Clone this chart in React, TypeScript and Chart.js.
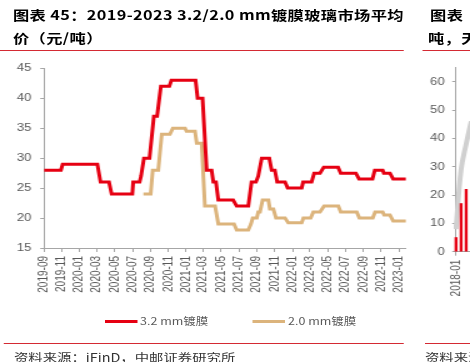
import React, { useEffect, useRef } from 'react';
import { Chart, registerables } from 'chart.js';

Chart.register(...registerables);

// ---------------- data ----------------
const tickLabels = [
  '2019-09', '2019-11', '2020-01', '2020-03', '2020-05', '2020-07', '2020-09',
  '2020-11', '2021-01', '2021-03', '2021-05', '2021-07', '2021-09', '2021-11',
  '2022-01', '2022-03', '2022-05', '2022-07', '2022-09', '2022-11', '2023-01',
];

const seriesNames = ['3.2 mm镀膜', '2.0 mm镀膜'];

const redDates = [
  '2019-09-01', '2019-10-29', '2019-11-04', '2020-03-02', '2020-03-13', '2020-04-11',
  '2020-04-20', '2020-06-30', '2020-07-03', '2020-07-25', '2020-07-30', '2020-08-09',
  '2020-08-28', '2020-09-12', '2020-09-23', '2020-10-06', '2020-11-04', '2020-11-11',
  '2021-02-02', '2021-02-09', '2021-02-26', '2021-03-12', '2021-03-29', '2021-04-04',
  '2021-04-13', '2021-04-21', '2021-06-11', '2021-06-23', '2021-08-02', '2021-08-13',
  '2021-08-28', '2021-09-05', '2021-09-17', '2021-10-13', '2021-10-21', '2021-11-01',
  '2021-11-09', '2021-12-06', '2021-12-15', '2022-02-01', '2022-02-06', '2022-03-07',
  '2022-03-16', '2022-04-05', '2022-04-18', '2022-06-06', '2022-06-15', '2022-08-06',
  '2022-08-17', '2022-10-02', '2022-10-10', '2022-11-06', '2022-11-10', '2022-12-01',
  '2022-12-12', '2023-01-25',
];
const redValues = [
  28, 28, 29, 29, 26, 26, 24, 24, 26, 26,
  27, 30, 30, 37, 37, 42, 42, 43, 43, 40,
  40, 28, 28, 26, 26, 23, 23, 22, 22, 26,
  26, 27, 30, 30, 28, 28, 26, 26, 25, 25,
  26, 26, 27.5, 27.5, 28.5, 28.5, 27.5, 27.5, 26.5, 26.5,
  28, 28, 27.5, 27.5, 26.5, 26.5,
];

const tanDates = [
  '2020-08-07', '2020-09-01', '2020-09-08', '2020-09-27', '2020-10-09', '2020-11-06',
  '2020-11-16', '2020-12-28', '2021-01-02', '2021-01-31', '2021-02-06', '2021-02-23',
  '2021-03-06', '2021-04-10', '2021-04-21', '2021-06-14', '2021-06-23', '2021-08-02',
  '2021-08-11', '2021-08-17', '2021-08-31', '2021-09-05', '2021-09-11', '2021-09-20',
  '2021-10-10', '2021-10-15', '2021-10-27', '2021-11-05', '2021-12-06', '2021-12-17',
  '2022-02-01', '2022-02-07', '2022-03-04', '2022-03-13', '2022-04-05', '2022-04-19',
  '2022-06-07', '2022-06-15', '2022-08-09', '2022-08-18', '2022-10-03', '2022-10-11',
  '2022-11-06', '2022-11-11', '2022-12-01', '2022-12-12', '2023-01-25',
];
const tanValues = [
  24, 24, 28, 28, 34, 34, 35, 35, 34.5, 34.5,
  32.5, 32.5, 22, 22, 19, 19, 18, 18, 19, 20,
  20, 21, 21, 23, 23, 21.5, 21.5, 20, 20, 19.2,
  19.2, 20, 20, 21, 21, 22, 22, 21, 21, 20,
  20, 21, 21, 20.5, 20.5, 19.5, 19.5,
];

// neighbouring (cropped) chart on the right
const rightCats = ['2018-01', '2018-02', '2018-03', '2018-04'];
const rightBars = [5, 17, 22, null];
const rightLine = [8, 29, 38, 46];

// ---------------- styles ----------------
const K = 1.25; // horizontal stretch of the reference
const RED = '#e60012';
const TAN = '#dcb47c';
const AXIS = '#a6a6a6';
const TICK = '#595959';
const RULE = '#d42a33';
const SANS = "'Liberation Sans', Arial, sans-serif";
const CJK = "'Noto Sans CJK SC', 'Noto Sans', sans-serif";

const ORIGIN = Date.UTC(2019, 8, 1);
const dayOf = (s: string) => {
  const [y, m, d] = s.split('-').map(Number);
  return (Date.UTC(y, m - 1, d || 1) - ORIGIN) / 86400000;
};

const LEFT_W = 336;
const CH_H = 250;
const RIGHT_W = 57;

export default function App() {
  const leftRef = useRef<HTMLCanvasElement | null>(null);
  const rightRef = useRef<HTMLCanvasElement | null>(null);

  useEffect(() => {
    const left = new Chart(leftRef.current as HTMLCanvasElement, {
      type: 'line',
      data: {
        datasets: [
          {
            label: seriesNames[0],
            data: redDates.map((d, i) => ({ x: dayOf(d), y: redValues[i] })),
            borderColor: RED,
            backgroundColor: RED,
            borderWidth: 3,
            pointRadius: 0,
            tension: 0,
            fill: false,
          },
          {
            label: seriesNames[1],
            data: tanDates.map((d, i) => ({ x: dayOf(d), y: tanValues[i] })),
            borderColor: TAN,
            backgroundColor: TAN,
            borderWidth: 3,
            pointRadius: 0,
            tension: 0,
            fill: false,
          },
        ],
      },
      options: {
        responsive: false,
        animation: false,
        layout: { padding: { top: 13, right: LEFT_W - 406 / K, bottom: 0, left: 0 } },
        plugins: { legend: { display: false }, tooltip: { enabled: false } },
        scales: {
          x: {
            type: 'linear',
            min: 0,
            max: dayOf(redDates[redDates.length - 1]),
            afterBuildTicks: (s: any) => {
              s.ticks = tickLabels.map((l) => ({ value: dayOf(l) }));
            },
            afterFit: (s: any) => {
              s.height = 57;
            },
            ticks: {
              autoSkip: false,
              maxRotation: 90,
              minRotation: 90,
              padding: 4,
              color: TICK,
              font: { family: SANS, size: 10 },
              callback: (_v: any, i: number) => tickLabels[i],
            },
            grid: { drawOnChartArea: false, drawTicks: true, tickLength: 4, color: AXIS },
            border: { display: true, color: AXIS },
          },
          y: {
            min: 15,
            max: 45,
            afterFit: (s: any) => {
              s.width = 44 / K;
            },
            ticks: {
              stepSize: 5,
              padding: 7,
              color: TICK,
              font: { family: SANS, size: 10.5 },
            },
            grid: { drawOnChartArea: false, drawTicks: true, tickLength: 3, color: AXIS },
            border: { display: true, color: AXIS },
          },
        },
      },
    } as any);

    const right = new Chart(rightRef.current as HTMLCanvasElement, {
      type: 'bar',
      data: {
        labels: rightCats,
        datasets: [
          {
            type: 'bar',
            data: rightBars,
            backgroundColor: RED,
            barThickness: 1.7,
            clip: false,
          },
          {
            type: 'line',
            data: rightLine,
            borderColor: '#d0d0d0',
            borderWidth: 4,
            pointRadius: 0,
            tension: 0.4,
            fill: false,
          },
        ],
      },
      options: {
        responsive: false,
        animation: false,
        layout: { padding: { top: 12.5, right: 0, bottom: 0, left: 0 } },
        plugins: { legend: { display: false }, tooltip: { enabled: false } },
        scales: {
          x: {
            offset: false,
            afterFit: (s: any) => {
              s.height = 53.3;
              s.paddingLeft = 0;
              s.paddingRight = 0;
            },
            ticks: {
              autoSkip: false,
              maxRotation: 90,
              minRotation: 90,
              padding: 4,
              color: TICK,
              font: { family: SANS, size: 10 },
              callback: (_v: any, i: number) => (i === 0 ? rightCats[i] : null),
            },
            grid: { offset: false, drawOnChartArea: false, tickLength: 4, color: AXIS },
            border: { display: true, color: AXIS },
          },
          y: {
            min: 0,
            max: 65,
            afterBuildTicks: (s: any) => {
              s.ticks = s.ticks.filter((t: any) => t.value <= 60);
            },
            afterFit: (s: any) => {
              s.width = 456 / K - 320;
            },
            ticks: {
              stepSize: 10,
              padding: 6,
              color: TICK,
              font: { family: SANS, size: 10.5 },
            },
            grid: { drawOnChartArea: false, tickLength: 3, color: AXIS },
            border: { display: true, color: AXIS },
          },
        },
      },
    } as any);

    return () => {
      left.destroy();
      right.destroy();
    };
  }, []);

  const abs = (s: React.CSSProperties): React.CSSProperties => ({
    position: 'absolute',
    whiteSpace: 'nowrap',
    margin: 0,
    ...s,
  });

  const title: React.CSSProperties = {
    fontFamily: CJK,
    fontWeight: 700,
    fontSize: 13,
    lineHeight: '14px',
    letterSpacing: '0.3px',
    color: '#000',
  };
  const legendText: React.CSSProperties = {
    fontFamily: CJK,
    fontSize: 10,
    lineHeight: '12px',
    color: TICK,
  };
  const source: React.CSSProperties = {
    fontFamily: CJK,
    fontSize: 11.5,
    lineHeight: '13px',
    color: '#333',
  };

  return (
    <div
      style={{
        position: 'fixed',
        left: 0,
        top: 0,
        width: 470,
        height: 362,
        overflow: 'hidden',
        background: '#fff',
      }}
    >
      <div
        style={{
          position: 'absolute',
          left: 0,
          top: 0,
          width: 470 / K,
          height: 362,
          transform: `scaleX(${K})`,
          transformOrigin: '0 0',
        }}
      >
        <div style={abs({ ...title, left: 13 / K, top: 8 })}>
          图表 45：2019-2023 3.2/2.0 mm镀膜玻璃市场平均
        </div>
        <div style={abs({ ...title, left: 13 / K, top: 31 })}>价（元/吨）</div>
        <div style={abs({ ...title, left: 430 / K, top: 8 })}>图表</div>
        <div style={abs({ ...title, left: 428 / K, top: 31 })}>吨，天</div>

        <div style={abs({ left: 0, top: 50, width: 404 / K, height: 1, background: RULE })} />
        <div style={abs({ left: 423 / K, top: 50, width: 60, height: 1, background: RULE })} />

        <canvas
          ref={leftRef}
          width={LEFT_W}
          height={CH_H}
          style={{ position: 'absolute', left: 0, top: 55, width: LEFT_W, height: CH_H }}
        />
        <canvas
          ref={rightRef}
          width={RIGHT_W}
          height={CH_H}
          style={{ position: 'absolute', left: 320, top: 55, width: RIGHT_W, height: CH_H }}
        />

        <div style={abs({ left: 105 / K, top: 319.5, width: 32 / K, height: 3, background: RED })} />
        <div style={abs({ ...legendText, left: 140 / K, top: 315 })}>{seriesNames[0]}</div>
        <div style={abs({ left: 253 / K, top: 319.5, width: 32 / K, height: 3, background: TAN })} />
        <div style={abs({ ...legendText, left: 288 / K, top: 315 })}>{seriesNames[1]}</div>

        <div style={abs({ left: 4 / K, top: 343, width: 400 / K, height: 1, background: RULE })} />
        <div style={abs({ left: 425 / K, top: 343, width: 60, height: 1, background: RULE })} />

        <div style={abs({ ...source, left: 14 / K, top: 351 })}>资料来源：iFinD，中邮证券研究所</div>
        <div style={abs({ ...source, left: 425 / K, top: 351 })}>资料来源：iFinD</div>
      </div>
    </div>
  );
}
